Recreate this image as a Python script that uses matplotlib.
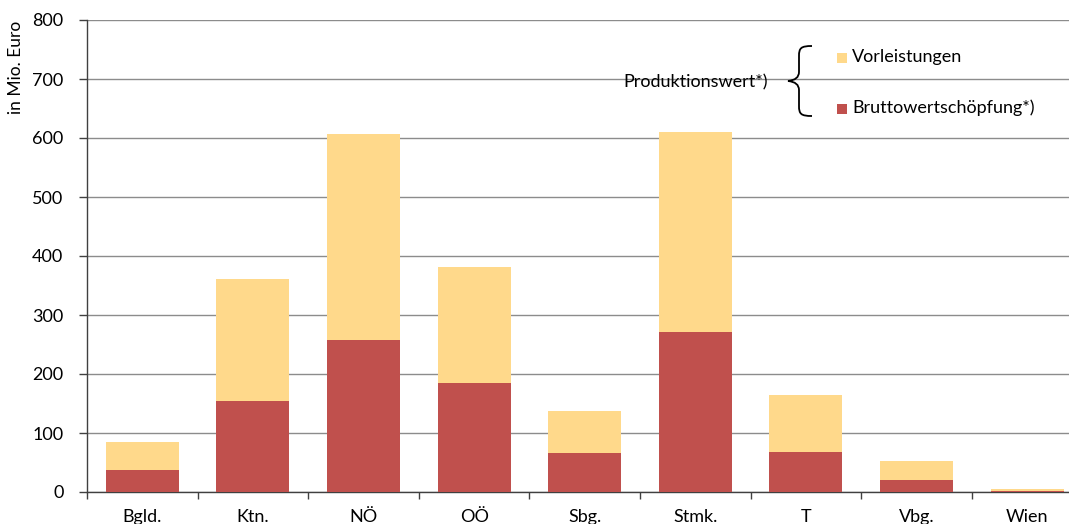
import matplotlib
matplotlib.use("Agg")
import matplotlib.pyplot as plt
from matplotlib.path import Path
from matplotlib.patches import PathPatch, Rectangle

plt.rcParams['font.family'] = ['Lato', 'DejaVu Sans']

# Bundesländer and values in Mio. Euro
regions = ["Bgld.", "Ktn.", "NÖ", "OÖ", "Sbg.", "Stmk.", "T", "Vbg.", "Wien"]
bruttowertschoepfung = [38, 155, 257, 185, 66, 272, 68, 20, 2]
produktionswert = [84, 361, 606, 382, 137, 611, 164, 52, 5]
vorleistungen = [p - b for p, b in zip(produktionswert, bruttowertschoepfung)]

y_ticks = [0, 100, 200, 300, 400, 500, 600, 700, 800]

RED = "#C0504D"
YELLOW = "#FFD98B"
GRID = "#8C8C8C"
AXIS = "#404040"
FS = 13

W, H = 1069, 524
fig = plt.figure(figsize=(W / 100, H / 100), dpi=100)

left, right, top, bottom = 87, 1082.5, 20, 492
ax = fig.add_axes([left / W, (H - bottom) / H, (right - left) / W, (bottom - top) / H])

x = list(range(len(regions)))
ax.bar(x, bruttowertschoepfung, width=0.66, color=RED, zorder=3, linewidth=0)
ax.bar(x, vorleistungen, bottom=bruttowertschoepfung, width=0.66, color=YELLOW,
       zorder=3, linewidth=0)

ax.set_xlim(-0.5, len(regions) - 0.5)
ax.set_ylim(0, 800)
ax.set_yticks(y_ticks)
ax.yaxis.grid(True, color=GRID, linewidth=1.0)
ax.set_axisbelow(True)

ax.set_xticks([i - 0.5 for i in range(len(regions) + 1)], minor=False)
ax.set_xticklabels([])
ax.set_xticks(x, minor=True)
ax.set_xticklabels(regions, minor=True)
ax.tick_params(axis='x', which='minor', length=0, pad=12, labelsize=FS, labelcolor="#000000")
ax.tick_params(axis='x', which='major', length=5, width=1, color=AXIS, direction='out')
ax.tick_params(axis='y', length=6, width=1, color=AXIS, labelsize=FS, pad=11)

for side in ("top", "right"):
    ax.spines[side].set_visible(False)
for side in ("left", "bottom"):
    ax.spines[side].set_color(AXIS)
    ax.spines[side].set_linewidth(1.0)

fig.text(16 / W, 1 - 67 / H, "in Mio. Euro", rotation=90, ha="center", va="center",
         fontsize=12.5)

# Annotation layer in pixel coordinates
ov = fig.add_axes([0, 0, 1, 1], zorder=5)
ov.set_xlim(0, W)
ov.set_ylim(H, 0)
ov.axis("off")

ov.text(623, 82, "Produktionswert*)", ha="left", va="center", fontsize=FS)

# Curly brace grouping the two components
verts = [
    (812, 46), (801, 46), (799, 48), (799, 56),
    (799, 72), (799, 80), (788, 81),
    (799, 82), (799, 90), (799, 106),
    (799, 114), (801, 116), (812, 116),
]
codes = [Path.MOVETO, Path.CURVE4, Path.CURVE4, Path.CURVE4,
         Path.LINETO, Path.CURVE3, Path.CURVE3,
         Path.CURVE3, Path.CURVE3, Path.LINETO,
         Path.CURVE4, Path.CURVE4, Path.CURVE4]
ov.add_patch(PathPatch(Path(verts, codes), fill=False, lw=1.3, edgecolor="#000000"))

ov.add_patch(Rectangle((837, 53), 10, 10, facecolor=YELLOW, edgecolor="none"))
ov.text(852, 57, "Vorleistungen", ha="left", va="center", fontsize=FS)
ov.add_patch(Rectangle((837, 104), 10, 10, facecolor=RED, edgecolor="none"))
ov.text(852, 108, "Bruttowertschöpfung*)", ha="left", va="center", fontsize=FS)

fig.savefig("out.png", dpi=100)
